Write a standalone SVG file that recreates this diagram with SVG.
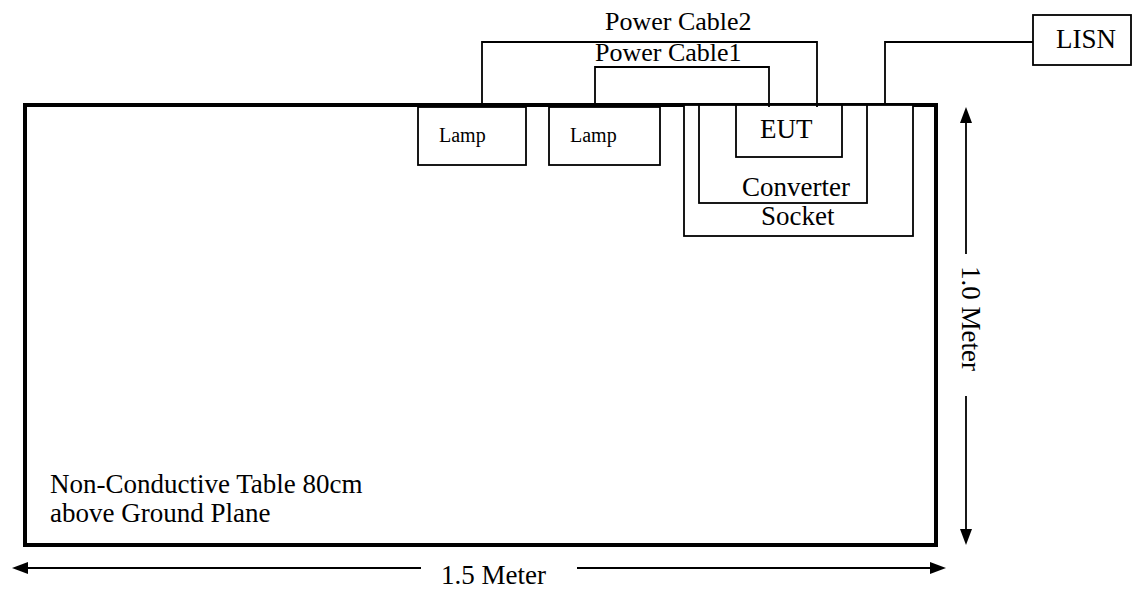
<svg xmlns="http://www.w3.org/2000/svg" width="1133" height="589" viewBox="0 0 1133 589">
<style>
.ln{fill:none;stroke:#000;stroke-width:1.8}
.box{fill:#fff;stroke:#000;stroke-width:1.8}
.t{font-family:"Liberation Serif","Times New Roman",serif;fill:#000;font-size:27px}
.s{font-size:20px}
.c{font-size:26px}
</style>
<rect width="1133" height="589" fill="#fff"/>
<g id="table">
<rect x="25" y="105" width="911" height="440" fill="none" stroke="#000" stroke-width="4"/>
<text class="t" x="50" y="493">Non-Conductive Table 80cm</text>
<text class="t" x="50" y="522">above Ground Plane</text>
</g>
<g id="socket">
<rect class="box" x="684" y="105" width="229" height="131"/>
<text class="t" x="761" y="225">Socket</text>
</g>
<g id="converter">
<rect class="box" x="699" y="105" width="168" height="98"/>
<text class="t" x="742" y="196">Converter</text>
</g>
<g id="eut">
<rect class="box" x="736" y="105" width="106" height="52"/>
<text class="t" x="760" y="138">EUT</text>
</g>
<g id="lamp1">
<rect class="box" x="418" y="107" width="108" height="58"/>
<text class="t s" x="439" y="142">Lamp</text>
</g>
<g id="lamp2">
<rect class="box" x="549" y="107" width="111" height="58"/>
<text class="t s" x="570" y="142">Lamp</text>
</g>
<g id="lisn">
<rect class="box" x="1033" y="15" width="98" height="50"/>
<text class="t" x="1056" y="48">LISN</text>
</g>
<g id="connectors">
<polyline class="ln" points="482,105 482,42 817,42 817,107"/>
<polyline class="ln" points="595,105 595,67 769,67 769,107"/>
<polyline class="ln" points="885,105 885,42 1033,42"/>
<text class="t c" x="605" y="30">Power Cable2</text>
<text class="t c" x="595" y="61">Power Cable1</text>
</g>
<g id="dimensions">
<line class="ln" x1="966" y1="120" x2="966" y2="254"/>
<line class="ln" x1="966" y1="396" x2="966" y2="530"/>
<polygon points="966,107 960,123 972,123" fill="#000"/>
<polygon points="966,545 960,529 972,529" fill="#000"/>
<text class="t" transform="translate(962,266) rotate(90)">1.0 Meter</text>
<line class="ln" x1="26" y1="568" x2="421" y2="568"/>
<line class="ln" x1="577" y1="568" x2="932" y2="568"/>
<polygon points="12,568 28,562 28,574" fill="#000"/>
<polygon points="946,568 930,562 930,574" fill="#000"/>
<text class="t" x="441" y="584">1.5 Meter</text>
</g>
</svg>
